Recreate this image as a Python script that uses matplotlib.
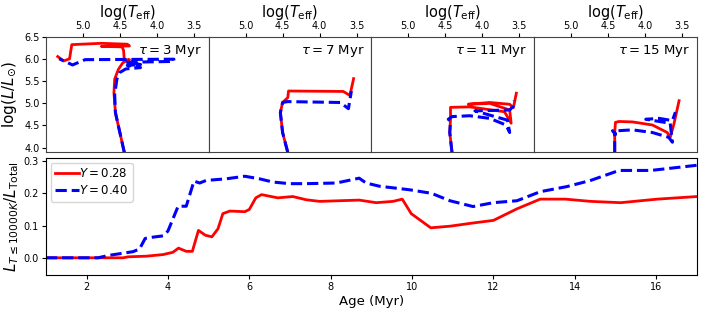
import matplotlib
matplotlib.use("Agg")
import matplotlib.pyplot as plt
import numpy as np

# --- bottom panel: luminosity fraction from cool stars vs age ---
age_y28 = [1.0, 2.0, 2.9, 3.02, 3.47, 3.88, 4.12, 4.26, 4.45, 4.6, 4.75, 4.92, 5.08, 5.23,
           5.35, 5.52, 5.89, 6.0, 6.16, 6.3, 6.7, 7.07, 7.4, 7.73, 8.7, 9.12, 9.53, 9.76,
           9.98, 10.46, 10.93, 11.5, 12.0, 12.58, 13.15, 13.77, 14.39, 15.13, 16.03, 17.0]
frac_y28 = [0.0, 0.0, 0.0, 0.003, 0.005, 0.01, 0.017, 0.03, 0.02, 0.02, 0.085, 0.07, 0.065, 0.09,
            0.137, 0.145, 0.143, 0.15, 0.186, 0.196, 0.186, 0.19, 0.18, 0.175, 0.179, 0.171, 0.175, 0.182,
            0.137, 0.093, 0.098, 0.108, 0.116, 0.152, 0.182, 0.182, 0.175, 0.171, 0.182, 0.19]

age_y40 = [1.0, 2.0, 2.28, 2.57, 2.89, 3.14, 3.3, 3.44, 3.63, 3.88, 4.0, 4.25, 4.45, 4.64,
           4.78, 4.94, 5.43, 5.89, 6.25, 6.58, 6.99, 7.4, 8.14, 8.7, 8.87, 9.2, 9.94,
           10.48, 10.93, 11.5, 12.0, 12.58, 13.15, 13.81, 14.39, 15.09, 15.87, 17.0]
frac_y40 = [0.0, 0.0, 0.0, 0.008, 0.014, 0.019, 0.027, 0.06, 0.064, 0.068, 0.083, 0.16, 0.16, 0.238,
            0.232, 0.24, 0.245, 0.253, 0.245, 0.235, 0.23, 0.23, 0.232, 0.247, 0.232, 0.222, 0.211,
            0.2, 0.177, 0.159, 0.171, 0.177, 0.205, 0.221, 0.24, 0.271, 0.271, 0.287]

# --- top panels: isochrones (log Teff, log L) ---
ages = [3, 7, 11, 15]

teff_y28 = [
    [4.44, 4.50, 4.56, 4.58, 4.57, 4.52, 4.46, 4.37, 4.44, 4.45, 4.47, 4.75, 4.37, 4.40, 4.75, 5.15, 5.18, 5.26, 5.34],
    [4.43, 4.50, 4.53, 4.50, 4.43, 4.42, 3.68, 3.59, 3.54],
    [4.41, 4.44, 4.43, 4.43, 4.17, 3.70, 3.61, 3.63, 3.90, 4.19, 3.90, 3.63, 3.58, 3.54],
    [4.41, 4.41, 4.40, 4.35, 4.17, 3.90, 3.70, 3.66, 3.61, 3.54],
]
lum_y28 = [
    [3.89, 4.34, 4.79, 5.24, 5.55, 5.77, 5.92, 5.99, 5.98, 6.20, 6.28, 6.29, 6.30, 6.34, 6.36, 6.33, 6.01, 5.96, 6.06],
    [3.89, 4.34, 4.79, 5.02, 5.13, 5.28, 5.27, 5.18, 5.56],
    [3.89, 4.34, 4.64, 4.91, 4.92, 4.81, 4.55, 4.85, 5.00, 4.98, 5.02, 4.98, 4.90, 5.23],
    [3.89, 4.34, 4.57, 4.59, 4.58, 4.51, 4.34, 4.23, 4.53, 5.06],
]

teff_y40 = [
    [4.44, 4.50, 4.56, 4.57, 4.54, 4.50, 4.42, 4.22, 4.40, 4.22, 4.42, 3.77, 3.77, 4.97, 5.14, 5.32],
    [4.43, 4.50, 4.53, 4.50, 4.43, 3.72, 3.61, 3.57],
    [4.41, 4.44, 4.43, 4.46, 4.41, 4.17, 3.90, 3.68, 3.63, 3.66, 4.10, 3.63, 3.58, 3.57],
    [4.41, 4.41, 4.40, 4.44, 4.37, 4.17, 3.90, 3.68, 3.63, 3.66, 3.99, 3.81, 3.63, 3.59],
]
lum_y40 = [
    [3.89, 4.34, 4.79, 5.20, 5.55, 5.70, 5.78, 5.81, 5.86, 5.88, 5.93, 5.95, 6.00, 5.99, 5.87, 6.01],
    [3.89, 4.34, 4.79, 5.02, 5.04, 5.02, 4.88, 5.28],
    [3.89, 4.34, 4.60, 4.64, 4.70, 4.72, 4.66, 4.51, 4.34, 4.62, 4.83, 4.85, 4.94, 5.06],
    [3.89, 4.34, 4.30, 4.38, 4.38, 4.40, 4.34, 4.23, 4.12, 4.55, 4.64, 4.66, 4.61, 4.80],
]

red = "#ff0000"
blue = "#0000ff"

fig = plt.figure(figsize=(7.06, 3.12), dpi=100)

left, right = 0.065, 0.987
pw = (right - left) / 4

for i in range(4):
    ax = fig.add_axes([left + i * pw, 0.513, pw, 0.368])
    ax.plot(teff_y28[i], lum_y28[i], color=red, lw=2.0)
    ax.plot(teff_y40[i], lum_y40[i], color=blue, lw=2.2, ls="--")
    ax.set_xlim(5.5, 3.3)
    ax.set_ylim(3.9, 6.5)
    ax.xaxis.tick_top()
    ax.xaxis.set_label_position("top")
    ax.set_xticks([5.0, 4.5, 4.0, 3.5])
    ax.tick_params(labelsize=7, pad=1.5, length=3)
    ax.set_xlabel(r"$\log(T_{\rm eff})$", fontsize=10.5, labelpad=2.5)
    ax.text(0.96, 0.95, r"$\tau = %d$ Myr" % ages[i], transform=ax.transAxes,
            ha="right", va="top", fontsize=9.5)
    if i == 0:
        ax.set_yticks([4.0, 4.5, 5.0, 5.5, 6.0, 6.5])
        ax.set_ylabel(r"$\log(L/L_{\odot})$", fontsize=11, labelpad=4)
    else:
        ax.set_yticks([])
    for s in ax.spines.values():
        s.set_color("#444444")

axb = fig.add_axes([left, 0.119, right - left, 0.375])
axb.plot(age_y28, frac_y28, color=red, lw=2.0, label=r"$Y = 0.28$")
axb.plot(age_y40, frac_y40, color=blue, lw=2.2, ls="--", label=r"$Y = 0.40$")
axb.set_xlim(1, 17)
axb.set_ylim(-0.053, 0.31)
axb.set_xticks([2, 4, 6, 8, 10, 12, 14, 16])
axb.set_yticks([0.0, 0.1, 0.2, 0.3])
axb.tick_params(labelsize=7, pad=2, length=3)
axb.set_xlabel("Age (Myr)", fontsize=9.5, labelpad=2)
axb.set_ylabel(r"$L_{T\leq10000K}/L_{\rm Total}$", fontsize=11, labelpad=2)
axb.legend(loc="upper left", fontsize=8.5, handlelength=2.0, borderaxespad=0.4,
           handletextpad=0.0, labelspacing=0.3, borderpad=0.4)

fig.savefig("out.png", dpi=100)
